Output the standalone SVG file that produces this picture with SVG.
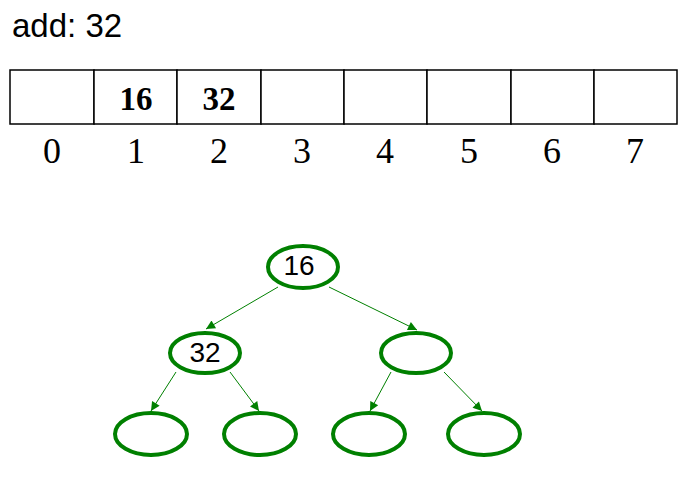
<svg xmlns="http://www.w3.org/2000/svg" width="692" height="477" viewBox="0 0 692 477">
<defs>
<style>
.cell{fill:#fff;stroke:#000;stroke-width:1.5}
.idx{font-family:"Liberation Serif",serif;font-size:36px;text-anchor:middle;fill:#000}
.val{font-family:"Liberation Serif",serif;font-size:33px;font-weight:bold;text-anchor:middle;fill:#000}
.node{fill:#fff;stroke:#008000;stroke-width:4}
.nt{font-family:"Liberation Sans",Arial,sans-serif;font-size:28px;text-anchor:middle;fill:#000}
.edge{stroke:#008000;stroke-width:1;fill:none;marker-end:url(#arr)}
</style>
<marker id="arr" viewBox="0 0 10 10" refX="10" refY="5" markerWidth="11" markerHeight="9" markerUnits="userSpaceOnUse" orient="auto">
<path d="M0,0 L10,5 L0,10 Z" fill="#008000"/>
</marker>
</defs>
<rect width="692" height="477" fill="#fff"/>
<text x="12" y="37" font-family="'Liberation Sans',Arial,sans-serif" font-size="33" fill="#000">add: 32</text>
<g id="array">
<rect class="cell" x="10" y="70" width="84" height="54"/>
<rect class="cell" x="94" y="70" width="83" height="54"/>
<rect class="cell" x="177" y="70" width="84" height="54"/>
<rect class="cell" x="261" y="70" width="83" height="54"/>
<rect class="cell" x="344" y="70" width="83" height="54"/>
<rect class="cell" x="427" y="70" width="84" height="54"/>
<rect class="cell" x="511" y="70" width="83" height="54"/>
<rect class="cell" x="594" y="70" width="83" height="54"/>
<text class="val" x="136" y="110">16</text>
<text class="val" x="219" y="110">32</text>
</g>
<g id="indices">
<text class="idx" x="52" y="163">0</text>
<text class="idx" x="136" y="163">1</text>
<text class="idx" x="219" y="163">2</text>
<text class="idx" x="302" y="163">3</text>
<text class="idx" x="385" y="163">4</text>
<text class="idx" x="469" y="163">5</text>
<text class="idx" x="552" y="163">6</text>
<text class="idx" x="635" y="163">7</text>
</g>
<g id="connectors">
<line class="edge" x1="278" y1="287" x2="206" y2="329"/>
<line class="edge" x1="329" y1="287" x2="417" y2="330"/>
<line class="edge" x1="176" y1="372" x2="151" y2="411"/>
<line class="edge" x1="230" y1="372" x2="259" y2="411"/>
<line class="edge" x1="391" y1="372" x2="370" y2="411"/>
<line class="edge" x1="444" y1="372" x2="482" y2="411"/>
</g>
<g id="n1"><ellipse class="node" cx="303" cy="267" rx="35" ry="21"/><text class="nt" x="299" y="275">16</text></g>
<g id="n2"><ellipse class="node" cx="205" cy="353" rx="35" ry="20"/><text class="nt" x="205" y="362">32</text></g>
<g id="n3"><ellipse class="node" cx="416" cy="353" rx="35" ry="20"/></g>
<g id="n4"><ellipse class="node" cx="151" cy="434" rx="36" ry="21"/></g>
<g id="n5"><ellipse class="node" cx="260" cy="434" rx="36" ry="21"/></g>
<g id="n6"><ellipse class="node" cx="369" cy="434" rx="36" ry="21"/></g>
<g id="n7"><ellipse class="node" cx="484" cy="434" rx="36" ry="21"/></g>
</svg>
